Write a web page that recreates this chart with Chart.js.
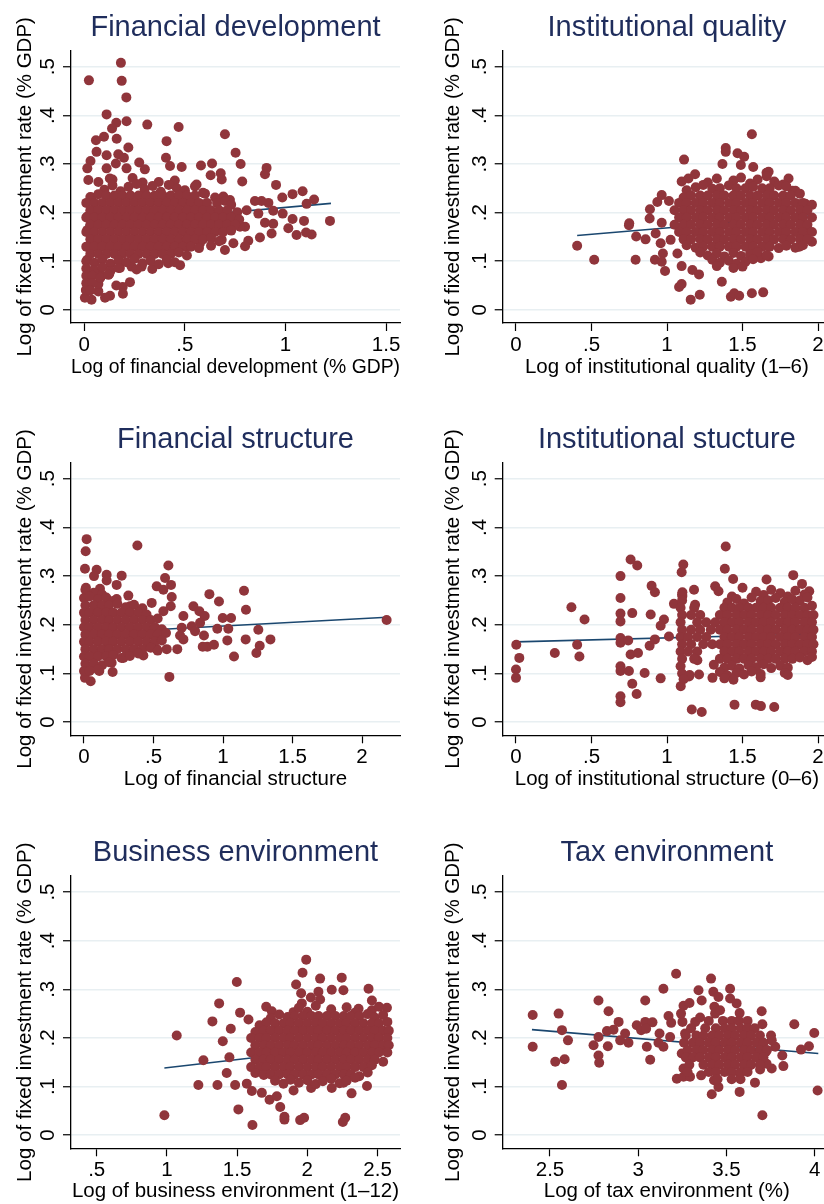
<!DOCTYPE html>
<html>
<head>
<meta charset="utf-8">
<script src="https://cdn.jsdelivr.net/npm/chart.js@4.4.0/dist/chart.umd.min.js"></script>
<style>
  html, body { margin: 0; padding: 0; background: #fff; overflow: hidden; }
  body { position: relative; width: 824px; height: 1204px; }
  canvas { position: absolute; }
</style>
</head>
<body>
<canvas id="p1" width="412" height="410" style="left:0;top:0"></canvas>
<canvas id="p2" width="419" height="410" style="left:412px;top:0"></canvas>
<canvas id="p3" width="412" height="410" style="left:0;top:410px"></canvas>
<canvas id="p4" width="419" height="410" style="left:412px;top:410px"></canvas>
<canvas id="p5" width="412" height="384" style="left:0;top:820px"></canvas>
<canvas id="p6" width="419" height="384" style="left:412px;top:820px"></canvas>
<script>
// shared y axis
const yTitle = 'Log of fixed investment rate (% GDP)';
const yTicks = [0, 0.1, 0.2, 0.3, 0.4, 0.5];
const yTickLabels = ['0', '.1', '.2', '.3', '.4', '.5'];

// Financial development
const fdTitle = 'Financial development';
const fdXTitle = 'Log of financial development (% GDP)';
const fdXTicks = [0, 0.5, 1, 1.5];
const fdXTickLabels = ['0', '.5', '1', '1.5'];
const fdFit = [[0.005, 0.174], [1.226, 0.219]];
const fdPoints = [
  [0.023,0.472],[0.182,0.508],[0.186,0.471],[0.209,0.437],[0.111,0.402],[0.159,0.385],[0.210,0.388],[0.313,0.381],[0.469,0.376],[0.699,0.361],
  [0.138,0.373],[0.098,0.356],[0.058,0.349],[0.161,0.352],[0.219,0.334],[0.409,0.347],[0.061,0.325],[0.111,0.318],[0.169,0.320],[0.197,0.313],
  [0.406,0.313],[0.031,0.306],[0.015,0.291],[0.020,0.267],[0.070,0.263],[0.111,0.291],[0.127,0.270],[0.157,0.301],[0.210,0.291],[0.273,0.303],
  [0.301,0.289],[0.426,0.296],[0.484,0.294],[0.580,0.297],[0.635,0.301],[0.752,0.323],[0.777,0.300],[0.785,0.264],[0.678,0.281],[0.683,0.268],
  [0.628,0.277],[0.558,0.258],[0.906,0.292],[0.898,0.279],[0.953,0.257],[0.984,0.231],[1.035,0.238],[1.085,0.244],[1.142,0.227],[1.105,0.218],
  [1.221,0.183],[1.130,0.155],[1.102,0.159],[1.055,0.154],[1.092,0.183],[1.035,0.187],[1.014,0.168],[0.986,0.198],[0.939,0.204],[0.915,0.220],
  [0.881,0.224],[0.848,0.224],[0.865,0.198],[0.873,0.149],[0.931,0.157],[0.939,0.177],[0.898,0.179],[0.807,0.205],[0.799,0.171],[0.815,0.142],
  [0.799,0.131],[0.741,0.137],[0.699,0.123],[0.683,0.144],[0.724,0.226],[0.691,0.233],[0.774,0.171],[0.741,0.192],[0.658,0.192],[0.608,0.164],
  [0.575,0.137],[0.509,0.130],[0.476,0.092],[0.417,0.096],[0.338,0.084],[0.285,0.089],[0.235,0.089],[0.227,0.057],[0.191,0.047],[0.159,0.050],
  [0.192,0.033],[0.128,0.029],[0.103,0.025],[0.070,0.038],[0.036,0.021],[0.003,0.025],[0.008,0.041],[0.028,0.058],[0.070,0.053],[0.020,0.079],
  [0.078,0.075],[0.124,0.074],[0.177,0.086],[0.015,0.103],[0.015,0.130],[0.015,0.164],[0.015,0.192],[0.036,0.231],[0.053,0.198],[0.045,0.151],
  [0.14,0.268],[0.24,0.271],[0.29,0.262],[0.37,0.263],[0.45,0.266],
  [0.10,0.247],[0.14,0.256],[0.18,0.244],[0.22,0.253],[0.26,0.259],[0.30,0.248],[0.34,0.255],[0.38,0.243],[0.42,0.257],[0.46,0.250],[0.50,0.246],[0.55,0.254],[0.59,0.241],
  [0.03,0.232],[0.07,0.238],[0.11,0.235],[0.15,0.235],[0.19,0.235],[0.23,0.235],[0.27,0.235],[0.31,0.235],[0.35,0.235],[0.39,0.235],[0.43,0.235],[0.47,0.235],[0.51,0.235],[0.55,0.235],[0.60,0.239],[0.65,0.231],
  [0.01,0.220],[0.05,0.220],[0.09,0.220],[0.13,0.220],[0.17,0.220],[0.21,0.220],[0.25,0.220],[0.29,0.220],[0.33,0.220],[0.37,0.220],[0.41,0.220],[0.45,0.220],[0.49,0.220],[0.53,0.220],[0.57,0.220],[0.61,0.220],[0.66,0.220],[0.70,0.224],[0.73,0.216],
  [0.03,0.205],[0.07,0.205],[0.11,0.205],[0.15,0.205],[0.19,0.205],[0.23,0.205],[0.27,0.205],[0.31,0.205],[0.35,0.205],[0.39,0.205],[0.43,0.205],[0.47,0.205],[0.51,0.205],[0.55,0.205],[0.59,0.205],[0.63,0.205],[0.67,0.205],[0.71,0.205],[0.76,0.201],
  [0.01,0.190],[0.05,0.190],[0.09,0.190],[0.13,0.190],[0.17,0.190],[0.21,0.190],[0.25,0.190],[0.29,0.190],[0.33,0.190],[0.37,0.190],[0.41,0.190],[0.45,0.190],[0.49,0.190],[0.53,0.190],[0.57,0.190],[0.61,0.190],[0.65,0.190],[0.69,0.190],[0.73,0.190],[0.77,0.186],
  [0.03,0.175],[0.07,0.175],[0.11,0.175],[0.15,0.175],[0.19,0.175],[0.23,0.175],[0.27,0.175],[0.31,0.175],[0.35,0.175],[0.39,0.175],[0.43,0.175],[0.47,0.175],[0.51,0.175],[0.55,0.175],[0.59,0.175],[0.63,0.175],[0.67,0.175],[0.71,0.175],[0.75,0.175],
  [0.01,0.160],[0.05,0.160],[0.09,0.160],[0.13,0.160],[0.17,0.160],[0.21,0.160],[0.25,0.160],[0.29,0.160],[0.33,0.160],[0.37,0.160],[0.41,0.160],[0.45,0.160],[0.49,0.160],[0.53,0.160],[0.57,0.160],[0.61,0.160],[0.65,0.160],[0.69,0.160],[0.73,0.163],
  [0.03,0.145],[0.07,0.145],[0.11,0.145],[0.15,0.145],[0.19,0.145],[0.23,0.145],[0.27,0.145],[0.31,0.145],[0.35,0.145],[0.39,0.145],[0.43,0.145],[0.47,0.145],[0.51,0.145],[0.55,0.145],[0.59,0.145],[0.63,0.148],[0.67,0.141],
  [0.01,0.130],[0.05,0.130],[0.09,0.130],[0.13,0.130],[0.17,0.130],[0.21,0.130],[0.25,0.130],[0.29,0.130],[0.33,0.130],[0.37,0.130],[0.41,0.130],[0.45,0.130],[0.49,0.130],[0.53,0.130],[0.57,0.127],[0.63,0.132],
  [0.03,0.115],[0.07,0.115],[0.11,0.115],[0.15,0.115],[0.19,0.115],[0.23,0.115],[0.27,0.115],[0.31,0.115],[0.35,0.115],[0.39,0.115],[0.43,0.115],[0.47,0.118],[0.51,0.112],
  [0.01,0.100],[0.05,0.097],[0.09,0.104],[0.13,0.095],[0.17,0.102],[0.21,0.098],[0.25,0.105],[0.29,0.096],[0.33,0.101],[0.37,0.094],[0.41,0.103],[0.45,0.098],
  [0.01,0.085],[0.05,0.082],[0.09,0.088],[0.13,0.080],[0.17,0.086],[0.26,0.083],
  [0.01,0.070],[0.04,0.070],[0.08,0.066],[0.12,0.072],
  [0.01,0.055],[0.04,0.055],[0.01,0.040],[0.03,0.040]
];

// Institutional quality
const iqTitle = 'Institutional quality';
const iqXTitle = 'Log of institutional quality (1\u20136)';
const iqXTicks = [0, 0.5, 1, 1.5, 2];
const iqXTickLabels = ['0', '.5', '1', '1.5', '2'];
const iqFit = [[0.405, 0.153], [1.97, 0.194]];
const iqPoints = [
  [0.405,0.132],[0.518,0.103],[0.748,0.174],[0.750,0.178],[0.792,0.103],[0.796,0.151],[0.858,0.145],[0.885,0.188],[0.887,0.207],[0.936,0.222],
  [0.965,0.236],[0.925,0.157],[0.965,0.179],[0.958,0.137],[0.973,0.116],[0.920,0.103],[0.965,0.099],[0.987,0.080],[1.013,0.224],[1.024,0.144],
  [1.069,0.116],[1.097,0.090],[1.113,0.309],[1.097,0.264],[1.142,0.270],[1.186,0.279],[1.080,0.047],[1.097,0.053],[1.157,0.021],[1.217,0.031],
  [1.212,0.073],[1.168,0.082],[1.363,0.058],[1.389,0.333],[1.389,0.325],[1.367,0.300],[1.467,0.322],[1.511,0.315],[1.489,0.298],[1.562,0.361],
  [1.571,0.294],[1.659,0.282],[1.673,0.284],[1.805,0.270],[1.832,0.245],[1.423,0.027],[1.445,0.034],[1.478,0.029],[1.562,0.034],[1.637,0.036],
  [1.673,0.110],[1.622,0.106],[1.960,0.140],[1.916,0.218],[1.876,0.130],[1.920,0.157],
  [1.27,0.262],[1.33,0.270],[1.44,0.266],[1.49,0.272],[1.55,0.260],[1.60,0.268],[1.66,0.275],[1.71,0.264],[1.77,0.258],
  [1.13,0.246],[1.19,0.252],[1.24,0.257],[1.30,0.249],[1.35,0.250],[1.41,0.256],[1.46,0.250],[1.52,0.250],[1.57,0.253],[1.63,0.250],[1.68,0.250],[1.74,0.256],[1.79,0.254],[1.85,0.245],
  [1.11,0.231],[1.16,0.235],[1.22,0.235],[1.27,0.235],[1.33,0.235],[1.38,0.235],[1.44,0.235],[1.49,0.235],[1.55,0.235],[1.60,0.235],[1.66,0.235],[1.71,0.235],[1.77,0.235],[1.82,0.235],[1.88,0.239],
  [1.08,0.220],[1.13,0.220],[1.19,0.220],[1.24,0.220],[1.30,0.220],[1.35,0.220],[1.41,0.220],[1.46,0.220],[1.52,0.220],[1.57,0.220],[1.63,0.220],[1.68,0.220],[1.74,0.220],[1.79,0.220],[1.85,0.220],[1.90,0.220],[1.96,0.216],
  [1.05,0.205],[1.11,0.205],[1.16,0.205],[1.22,0.205],[1.27,0.205],[1.33,0.205],[1.38,0.205],[1.44,0.205],[1.49,0.205],[1.55,0.205],[1.60,0.205],[1.66,0.205],[1.71,0.205],[1.77,0.205],[1.82,0.205],[1.88,0.205],[1.93,0.205],
  [1.08,0.190],[1.13,0.190],[1.19,0.190],[1.24,0.190],[1.30,0.190],[1.35,0.190],[1.41,0.190],[1.46,0.190],[1.52,0.190],[1.57,0.190],[1.63,0.190],[1.68,0.190],[1.74,0.190],[1.79,0.190],[1.85,0.190],[1.90,0.190],[1.96,0.190],
  [1.05,0.175],[1.11,0.175],[1.16,0.175],[1.22,0.175],[1.27,0.175],[1.33,0.175],[1.38,0.175],[1.44,0.175],[1.49,0.175],[1.55,0.175],[1.60,0.175],[1.66,0.175],[1.71,0.175],[1.77,0.175],[1.82,0.175],[1.88,0.175],[1.93,0.175],
  [1.08,0.160],[1.13,0.160],[1.19,0.160],[1.24,0.160],[1.30,0.160],[1.35,0.160],[1.41,0.160],[1.46,0.160],[1.52,0.160],[1.57,0.160],[1.63,0.160],[1.68,0.160],[1.74,0.160],[1.79,0.160],[1.85,0.160],[1.90,0.160],[1.96,0.160],
  [1.11,0.145],[1.16,0.145],[1.22,0.145],[1.27,0.145],[1.33,0.145],[1.38,0.145],[1.44,0.145],[1.49,0.145],[1.55,0.145],[1.60,0.145],[1.66,0.145],[1.71,0.145],[1.77,0.145],[1.82,0.145],[1.88,0.145],[1.93,0.145],
  [1.13,0.133],[1.19,0.128],[1.24,0.130],[1.30,0.130],[1.35,0.130],[1.41,0.130],[1.46,0.130],[1.52,0.130],[1.57,0.130],[1.63,0.130],[1.68,0.130],[1.74,0.127],[1.79,0.132],[1.85,0.128],[1.90,0.133],
  [1.22,0.118],[1.27,0.112],[1.33,0.116],[1.38,0.110],[1.44,0.117],[1.49,0.111],[1.55,0.115],[1.60,0.119],[1.66,0.113],
  [1.30,0.103],[1.35,0.097],[1.41,0.101],[1.46,0.095],[1.52,0.099],[1.57,0.104],
  [1.33,0.090],[1.44,0.086],[1.50,0.089]
];

// Financial structure
const fsTitle = 'Financial structure';
const fsXTitle = 'Log of financial structure';
const fsXTicks = [0, 0.5, 1, 1.5, 2];
const fsXTickLabels = ['0', '.5', '1', '1.5', '2'];
const fsFit = [[0.0, 0.182], [2.18, 0.2156]];
const fsPoints = [
  [0.019,0.376],[0.012,0.351],[0.007,0.315],[0.014,0.276],[0.384,0.363],[0.607,0.322],[0.091,0.313],[0.072,0.300],[0.163,0.303],[0.163,0.291],
  [0.271,0.301],[0.235,0.282],[0.115,0.274],[0.319,0.260],[0.235,0.253],[0.487,0.245],[0.523,0.279],[0.583,0.296],[0.571,0.272],[0.626,0.282],
  [0.631,0.257],[0.624,0.238],[0.331,0.238],[0.403,0.228],[0.571,0.228],[0.715,0.218],[0.787,0.238],[0.830,0.228],[0.868,0.218],[0.902,0.263],
  [0.971,0.248],[0.998,0.214],[1.058,0.214],[1.151,0.270],[1.165,0.231],[1.254,0.190],[1.038,0.192],[0.959,0.192],[0.835,0.204],[0.775,0.197],
  [0.703,0.194],[0.691,0.178],[0.671,0.150],[0.863,0.178],[0.887,0.155],[0.935,0.159],[0.854,0.155],[1.031,0.168],[1.079,0.135],[1.163,0.170],
  [1.240,0.142],[1.264,0.157],[1.341,0.170],[0.614,0.093],[0.048,0.084],[0.007,0.091],[0.110,0.105],[0.206,0.103],[0.199,0.122],[0.283,0.132],
  [0.427,0.137],[0.523,0.150],[0.595,0.150],[0.715,0.170],[0.799,0.187],[2.177,0.210],
  [0.01,0.272],[0.07,0.266],[0.13,0.262],
  [0.00,0.255],[0.04,0.258],[0.10,0.252],[0.16,0.256],[0.21,0.249],
  [0.01,0.240],[0.07,0.240],[0.13,0.240],[0.18,0.240],[0.24,0.243],[0.30,0.236],[0.36,0.241],[0.42,0.234],
  [0.00,0.225],[0.04,0.225],[0.10,0.225],[0.16,0.225],[0.21,0.225],[0.27,0.225],[0.33,0.225],[0.39,0.225],[0.45,0.221],
  [0.01,0.210],[0.07,0.210],[0.13,0.210],[0.18,0.210],[0.24,0.210],[0.30,0.210],[0.36,0.210],[0.42,0.210],[0.48,0.210],[0.53,0.213],
  [0.00,0.195],[0.04,0.195],[0.10,0.195],[0.16,0.195],[0.21,0.195],[0.27,0.195],[0.33,0.195],[0.39,0.195],[0.45,0.195],[0.51,0.195],[0.56,0.191],
  [0.01,0.180],[0.07,0.180],[0.13,0.180],[0.18,0.180],[0.24,0.180],[0.30,0.180],[0.36,0.180],[0.42,0.180],[0.48,0.180],[0.53,0.180],[0.59,0.183],
  [0.00,0.165],[0.04,0.165],[0.10,0.165],[0.16,0.165],[0.21,0.165],[0.27,0.165],[0.33,0.165],[0.39,0.165],[0.45,0.165],[0.51,0.165],[0.56,0.168],
  [0.01,0.150],[0.07,0.150],[0.13,0.150],[0.18,0.150],[0.24,0.150],[0.30,0.150],[0.36,0.150],[0.42,0.150],[0.48,0.153],[0.53,0.147],
  [0.00,0.135],[0.04,0.135],[0.10,0.135],[0.16,0.135],[0.21,0.138],[0.27,0.132],[0.33,0.136],[0.39,0.141],
  [0.01,0.120],[0.07,0.120],[0.13,0.117],[0.18,0.123],
  [0.00,0.105],[0.04,0.105],[0.10,0.108]
];

// Institutional structure
const isTitle = 'Institutional stucture';
const isXTitle = 'Log of institutional structure (0\u20136)';
const isXTicks = [0, 0.5, 1, 1.5, 2];
const isXTickLabels = ['0', '.5', '1', '1.5', '2'];
const isFit = [[0.0, 0.165], [1.97, 0.181]];
const isPoints = [
  [0.002,0.159],[0.022,0.132],[0.0,0.108],[0.0,0.091],[0.257,0.142],[0.367,0.236],[0.454,0.211],[0.405,0.159],[0.420,0.135],
  [0.692,0.300],[0.692,0.255],[0.692,0.223],[0.692,0.207],[0.692,0.173],[0.692,0.163],[0.692,0.115],[0.692,0.105],[0.692,0.053],[0.692,0.041],
  [0.759,0.334],[0.803,0.322],[0.770,0.224],[0.743,0.168],[0.759,0.139],[0.808,0.142],[0.748,0.105],[0.770,0.079],[0.799,0.058],[0.852,0.101],
  [0.958,0.090],[0.892,0.221],[0.898,0.280],[0.920,0.267],[0.885,0.157],[0.920,0.170],[0.980,0.211],[0.958,0.198],[1.013,0.176],[1.046,0.243],
  [1.108,0.324],[1.097,0.308],[1.102,0.267],[1.102,0.259],[1.179,0.272],[1.186,0.241],[1.091,0.074],[1.146,0.094],[1.212,0.098],[1.164,0.026],
  [1.230,0.021],[1.389,0.361],[1.383,0.315],[1.438,0.294],[1.500,0.276],[1.659,0.293],[1.836,0.302],[1.894,0.284],[1.942,0.269],[1.319,0.279],
  [1.341,0.269],[1.447,0.036],[1.588,0.036],[1.622,0.033],[1.710,0.031],[1.201,0.127],[1.301,0.091],
  [1.10,0.262],[1.43,0.258],[1.59,0.268],[1.64,0.261],[1.69,0.272],[1.75,0.265],[1.80,0.258],[1.85,0.270],[1.91,0.262],
  [1.10,0.250],[1.40,0.246],[1.46,0.253],[1.51,0.244],[1.56,0.256],[1.62,0.249],[1.67,0.250],[1.72,0.255],[1.78,0.247],[1.83,0.252],[1.88,0.250],[1.93,0.256],
  [1.09,0.235],[1.18,0.235],[1.38,0.235],[1.43,0.235],[1.48,0.235],[1.54,0.235],[1.59,0.235],[1.64,0.235],[1.69,0.235],[1.75,0.235],[1.80,0.235],[1.85,0.235],[1.91,0.235],[1.96,0.239],
  [1.10,0.220],[1.16,0.220],[1.22,0.220],[1.35,0.220],[1.40,0.220],[1.46,0.220],[1.51,0.220],[1.56,0.220],[1.62,0.220],[1.67,0.220],[1.72,0.220],[1.78,0.220],[1.83,0.220],[1.88,0.220],[1.93,0.220],[1.97,0.220],
  [1.09,0.205],[1.20,0.205],[1.26,0.205],[1.32,0.205],[1.38,0.205],[1.43,0.205],[1.48,0.205],[1.54,0.205],[1.59,0.205],[1.64,0.205],[1.69,0.205],[1.75,0.205],[1.80,0.205],[1.85,0.205],[1.91,0.205],[1.96,0.205],
  [1.10,0.190],[1.16,0.190],[1.22,0.190],[1.29,0.190],[1.35,0.190],[1.40,0.190],[1.46,0.190],[1.51,0.190],[1.56,0.190],[1.62,0.190],[1.67,0.190],[1.72,0.190],[1.78,0.190],[1.83,0.190],[1.88,0.190],[1.93,0.190],[1.97,0.190],
  [1.09,0.175],[1.14,0.175],[1.20,0.175],[1.26,0.175],[1.38,0.175],[1.43,0.175],[1.48,0.175],[1.54,0.175],[1.59,0.175],[1.64,0.175],[1.69,0.175],[1.75,0.175],[1.80,0.175],[1.85,0.175],[1.91,0.175],[1.96,0.175],
  [1.10,0.160],[1.16,0.160],[1.24,0.160],[1.30,0.160],[1.35,0.160],[1.40,0.160],[1.46,0.160],[1.51,0.160],[1.56,0.160],[1.62,0.160],[1.67,0.160],[1.72,0.160],[1.78,0.160],[1.83,0.160],[1.88,0.160],[1.93,0.160],[1.97,0.160],
  [1.09,0.145],[1.14,0.145],[1.20,0.145],[1.38,0.145],[1.43,0.145],[1.48,0.145],[1.54,0.145],[1.59,0.145],[1.64,0.145],[1.69,0.145],[1.75,0.145],[1.80,0.145],[1.85,0.145],[1.91,0.145],[1.96,0.145],
  [1.10,0.130],[1.18,0.130],[1.35,0.130],[1.40,0.130],[1.46,0.130],[1.51,0.130],[1.56,0.130],[1.62,0.130],[1.67,0.130],[1.72,0.130],[1.78,0.130],[1.83,0.130],[1.88,0.133],[1.93,0.127],[1.96,0.134],
  [1.09,0.115],[1.31,0.118],[1.38,0.112],[1.43,0.116],[1.48,0.110],[1.54,0.117],[1.59,0.113],[1.64,0.119],[1.69,0.111],[1.75,0.116],[1.80,0.112],
  [1.10,0.100],[1.15,0.097],[1.35,0.103],[1.40,0.096],[1.46,0.101],[1.51,0.098],[1.56,0.104],[1.62,0.099],[1.78,0.101],[1.80,0.097],
  [1.11,0.088],[1.38,0.090],[1.44,0.087],[1.62,0.092]
];

// Business environment
const beTitle = 'Business environment';
const beXTitle = 'Log of business environment (1\u201312)';
const beXTicks = [0.5, 1, 1.5, 2, 2.5];
const beXTickLabels = ['.5', '1', '1.5', '2', '2.5'];
const beFit = [[0.982, 0.138], [2.57, 0.191]];
const bePoints = [
  [0.982,0.041],[1.070,0.205],[1.260,0.154],[1.224,0.103],[1.324,0.234],[1.372,0.271],[1.398,0.193],[1.455,0.219],[1.445,0.160],[1.426,0.128],
  [1.360,0.103],[1.498,0.315],[1.521,0.252],[1.581,0.238],[1.486,0.103],[1.569,0.106],[1.605,0.091],[1.509,0.053],[1.609,0.021],[1.676,0.087],
  [1.731,0.073],[1.807,0.058],[1.837,0.038],[1.837,0.032],[1.949,0.031],[1.977,0.036],[2.253,0.027],[2.270,0.036],[1.992,0.361],[1.966,0.334],
  [2.091,0.322],[1.920,0.310],[1.956,0.292],[2.079,0.295],[2.174,0.299],[2.245,0.324],[2.257,0.298],[2.436,0.301],[2.460,0.277],[2.567,0.262],
  [2.365,0.260],[1.707,0.264],[1.747,0.255],[1.902,0.253],[1.961,0.271],[2.025,0.283],[2.091,0.279],[2.315,0.086],[2.257,0.108],[2.425,0.101],
  [2.174,0.097],[2.027,0.097],[1.902,0.092],[1.783,0.080],
  [1.94,0.262],[2.00,0.254],[2.06,0.266],[2.17,0.259],[2.28,0.263],[2.34,0.252],[2.46,0.257],[2.51,0.264],
  [1.74,0.241],[1.80,0.248],[1.86,0.243],[1.91,0.245],[1.97,0.245],[2.03,0.245],[2.08,0.245],[2.14,0.245],[2.20,0.245],[2.26,0.245],[2.31,0.245],[2.37,0.245],[2.43,0.249],[2.48,0.242],[2.54,0.247],
  [1.66,0.226],[1.71,0.232],[1.77,0.230],[1.83,0.230],[1.88,0.230],[1.94,0.230],[2.00,0.230],[2.06,0.230],[2.11,0.230],[2.17,0.230],[2.23,0.230],[2.28,0.230],[2.34,0.230],[2.40,0.230],[2.46,0.230],[2.51,0.230],[2.57,0.233],
  [1.63,0.212],[1.69,0.215],[1.74,0.215],[1.80,0.215],[1.86,0.215],[1.91,0.215],[1.97,0.215],[2.03,0.215],[2.08,0.215],[2.14,0.215],[2.20,0.215],[2.26,0.215],[2.31,0.215],[2.37,0.215],[2.43,0.215],[2.48,0.215],[2.54,0.215],[2.58,0.215],
  [1.60,0.200],[1.66,0.200],[1.71,0.200],[1.77,0.200],[1.83,0.200],[1.88,0.200],[1.94,0.200],[2.00,0.200],[2.06,0.200],[2.11,0.200],[2.17,0.200],[2.23,0.200],[2.28,0.200],[2.34,0.200],[2.40,0.200],[2.46,0.200],[2.51,0.200],[2.57,0.200],
  [1.63,0.185],[1.69,0.185],[1.74,0.185],[1.80,0.185],[1.86,0.185],[1.91,0.185],[1.97,0.185],[2.03,0.185],[2.08,0.185],[2.14,0.185],[2.20,0.185],[2.26,0.185],[2.31,0.185],[2.37,0.185],[2.43,0.185],[2.48,0.185],[2.54,0.185],[2.58,0.185],
  [1.60,0.170],[1.66,0.170],[1.71,0.170],[1.77,0.170],[1.83,0.170],[1.88,0.170],[1.94,0.170],[2.00,0.170],[2.06,0.170],[2.11,0.170],[2.17,0.170],[2.23,0.170],[2.28,0.170],[2.34,0.170],[2.40,0.170],[2.46,0.170],[2.51,0.170],[2.57,0.170],
  [1.63,0.155],[1.69,0.155],[1.74,0.155],[1.80,0.155],[1.86,0.155],[1.91,0.155],[1.97,0.155],[2.03,0.155],[2.08,0.155],[2.14,0.155],[2.20,0.155],[2.26,0.155],[2.31,0.155],[2.37,0.155],[2.43,0.155],[2.48,0.155],[2.54,0.151],
  [1.60,0.140],[1.66,0.140],[1.71,0.140],[1.77,0.140],[1.83,0.140],[1.88,0.140],[1.94,0.140],[2.00,0.140],[2.06,0.140],[2.11,0.140],[2.17,0.140],[2.23,0.140],[2.28,0.140],[2.34,0.140],[2.40,0.140],[2.46,0.144],
  [1.63,0.128],[1.69,0.124],[1.74,0.125],[1.80,0.125],[1.86,0.125],[1.91,0.125],[1.97,0.125],[2.03,0.125],[2.08,0.125],[2.14,0.125],[2.20,0.125],[2.26,0.125],[2.31,0.125],[2.37,0.121],[2.43,0.129],
  [1.77,0.112],[1.83,0.106],[1.88,0.114],[1.94,0.108],[2.00,0.113],[2.06,0.105],[2.11,0.111],[2.17,0.116],[2.23,0.107],[2.28,0.112],[2.34,0.118]
];

// Tax environment
const txTitle = 'Tax environment';
const txXTitle = 'Log of tax environment (%)';
const txXTicks = [2.5, 3, 3.5, 4];
const txXTickLabels = ['2.5', '3', '3.5', '4'];
const txFit = [[2.398, 0.217], [4.021, 0.168]];
const txPoints = [
  [2.402,0.247],[2.402,0.182],[2.549,0.250],[2.568,0.216],[2.602,0.195],[2.530,0.151],[2.583,0.156],[2.568,0.103],[2.747,0.185],[2.775,0.277],
  [2.775,0.202],[2.775,0.164],[2.779,0.149],[2.832,0.255],[2.823,0.214],[2.828,0.183],[2.860,0.217],[2.889,0.233],[2.898,0.195],[2.926,0.209],
  [2.945,0.190],[2.992,0.226],[3.017,0.216],[3.040,0.277],[3.040,0.233],[3.049,0.182],[3.068,0.155],[3.081,0.232],[3.045,0.219],[3.121,0.209],
  [3.115,0.190],[3.143,0.301],[3.143,0.182],[3.172,0.245],[3.181,0.202],[3.187,0.231],[3.215,0.332],[3.219,0.116],[3.257,0.266],[3.291,0.272],
  [3.251,0.233],[3.257,0.120],[3.342,0.298],[3.360,0.277],[3.323,0.233],[3.351,0.242],[3.357,0.123],[3.413,0.322],[3.426,0.295],[3.455,0.284],
  [3.432,0.264],[3.436,0.250],[3.464,0.257],[3.417,0.084],[3.455,0.099],[3.521,0.301],[3.521,0.281],[3.558,0.271],[3.575,0.251],[3.575,0.089],
  [3.662,0.108],[3.700,0.255],[3.704,0.228],[3.704,0.041],[3.753,0.205],[3.757,0.137],[3.817,0.164],[3.823,0.142],[3.885,0.228],[3.923,0.176],
  [3.968,0.183],[3.998,0.210],[4.017,0.092],[3.681,0.168],[3.723,0.171],[3.728,0.147],[3.691,0.135],[3.243,0.250],[3.266,0.209],[3.247,0.168],
  [3.257,0.137],[3.294,0.120],[3.430,0.113],[3.575,0.127],[3.623,0.140],[3.777,0.182],[3.757,0.195],
  [3.40,0.235],[3.48,0.235],[3.53,0.235],[3.57,0.235],[3.62,0.235],
  [3.30,0.220],[3.38,0.220],[3.44,0.220],[3.49,0.220],[3.53,0.220],[3.58,0.220],[3.62,0.220],[3.66,0.220],
  [3.27,0.205],[3.33,0.205],[3.37,0.205],[3.42,0.205],[3.46,0.205],[3.51,0.205],[3.55,0.205],[3.60,0.205],[3.64,0.205],[3.69,0.205],
  [3.26,0.190],[3.31,0.190],[3.35,0.190],[3.40,0.190],[3.44,0.190],[3.49,0.190],[3.53,0.190],[3.58,0.190],[3.62,0.190],[3.67,0.190],[3.71,0.190],
  [3.28,0.175],[3.33,0.175],[3.37,0.175],[3.42,0.175],[3.46,0.175],[3.51,0.175],[3.55,0.175],[3.60,0.175],[3.64,0.175],[3.69,0.175],[3.73,0.175],
  [3.27,0.160],[3.31,0.160],[3.35,0.160],[3.40,0.160],[3.44,0.160],[3.49,0.160],[3.53,0.160],[3.58,0.160],[3.62,0.160],[3.67,0.160],[3.71,0.160],
  [3.29,0.145],[3.37,0.145],[3.42,0.145],[3.46,0.145],[3.51,0.145],[3.55,0.145],[3.60,0.145],[3.64,0.145],[3.69,0.145],
  [3.28,0.130],[3.40,0.130],[3.44,0.130],[3.49,0.130],[3.53,0.130],[3.58,0.130],[3.62,0.130],
  [3.45,0.115],[3.53,0.115],[3.58,0.115]
];

const FONT = "'Liberation Sans', Arial, Helvetica, sans-serif";
const markerColor = '#90353B';
const fitColor = '#1A476F';
const titleColor = '#1F2D5C';
const gridColor = '#E8EFF2';
const axisColor = '#000000';

// chart area of each panel in canvas pixels, plus axis ranges
const panels = [
  { id: 'p1', title: fdTitle, xTitle: fdXTitle, points: fdPoints, fit: fdFit, xTicks: fdXTicks, xLabels: fdXTickLabels,
    xMin: -0.066, xMax: 1.569, area: { left: 71, right: 400, top: 50.7, bottom: 323 }, yTitleX: 25 },
  { id: 'p2', title: iqTitle, xTitle: iqXTitle, points: iqPoints, fit: iqFit, xTicks: iqXTicks, xLabels: iqXTickLabels,
    xMin: -0.088, xMax: 2.086, area: { left: 90.7, right: 419, top: 50.7, bottom: 323 }, yTitleX: 41.7 },
  { id: 'p3', title: fsTitle, xTitle: fsXTitle, points: fsPoints, fit: fsFit, xTicks: fsXTicks, xLabels: fsXTickLabels,
    xMin: -0.0935, xMax: 2.273, area: { left: 71, right: 400, top: 52.7, bottom: 325.3 }, yTitleX: 25 },
  { id: 'p4', title: isTitle, xTitle: isXTitle, points: isPoints, fit: isFit, xTicks: isXTicks, xLabels: isXTickLabels,
    xMin: -0.088, xMax: 2.086, area: { left: 90.7, right: 419, top: 52.7, bottom: 325.3 }, yTitleX: 41.7 },
  { id: 'p5', title: beTitle, xTitle: beXTitle, points: bePoints, fit: beFit, xTicks: beXTicks, xLabels: beXTickLabels,
    xMin: 0.317, xMax: 2.660, area: { left: 71, right: 400, top: 56, bottom: 328.3 }, yTitleX: 25 },
  { id: 'p6', title: txTitle, xTitle: txXTitle, points: txPoints, fit: txFit, xTicks: txXTicks, xLabels: txXTickLabels,
    xMin: 2.232, xMax: 4.093, area: { left: 90.7, right: 419, top: 56, bottom: 328.3 }, yTitleX: 41.7 }
];

const titleSize = 29;
const axisSize = 20.5;
const tickSize = 20.5;

function makePanel(p) {
  const canvas = document.getElementById(p.id);
  const W = canvas.width, H = canvas.height;
  const a = p.area;
  const titleLH = titleSize * 1.2;
  const axisLH = axisSize * 1.2;

  new Chart(canvas, {
    type: 'scatter',
    data: {
      datasets: [
        {
          data: p.points.map(pt => ({ x: pt[0], y: pt[1] })),
          pointRadius: 5,
          pointBackgroundColor: markerColor,
          pointBorderColor: markerColor,
          pointBorderWidth: 0,
          order: 0
        },
        {
          type: 'line',
          data: p.fit.map(pt => ({ x: pt[0], y: pt[1] })),
          borderColor: fitColor,
          borderWidth: 1.6,
          pointRadius: 0,
          fill: false,
          order: 1
        }
      ]
    },
    options: {
      responsive: false,
      animation: false,
      events: [],
      layout: { autoPadding: false, padding: { left: 0, top: 0, right: W - a.right, bottom: 0 } },
      plugins: {
        legend: { display: false },
        tooltip: { enabled: false },
        title: {
          display: true,
          text: p.title,
          fullSize: false,
          color: titleColor,
          font: { family: FONT, size: titleSize, weight: 'normal', lineHeight: 1.2 },
          padding: { top: a.top - 22.7 - titleLH / 2, bottom: 22.7 - titleLH / 2 }
        }
      },
      scales: {
        x: {
          type: 'linear',
          min: p.xMin,
          max: p.xMax,
          afterBuildTicks: s => { s.ticks = p.xTicks.map(v => ({ value: v })); },
          afterFit: s => { s.height = H - a.bottom; },
          ticks: {
            autoSkip: false, maxRotation: 0, padding: 1.7, color: '#000',
            font: { family: FONT, size: tickSize, lineHeight: 1.2 },
            callback: (v, i) => p.xLabels[i]
          },
          grid: { drawOnChartArea: false, drawTicks: true, tickLength: 8, tickColor: axisColor, tickWidth: 1.2 },
          border: { display: true, color: axisColor, width: 1.3 },
          title: {
            display: true, text: p.xTitle, color: '#000',
            font: { family: FONT, size: axisSize, lineHeight: 1.2 },
            padding: { top: 0, bottom: Math.max(0, H - a.bottom - 44 - axisLH / 2) }
          }
        },
        y: {
          type: 'linear',
          min: -0.027,
          max: 0.533,
          afterBuildTicks: s => { s.ticks = yTicks.map(v => ({ value: v })); },
          afterFit: s => { s.width = a.left; },
          ticks: {
            autoSkip: false, minRotation: 90, maxRotation: 90, crossAlign: 'center', padding: 6.2, color: '#000',
            font: { family: FONT, size: tickSize, lineHeight: 1.2 },
            callback: (v, i) => yTickLabels[i]
          },
          grid: { color: gridColor, lineWidth: 1.5, drawTicks: true, tickLength: 8, tickColor: axisColor, tickWidth: 1.2 },
          border: { display: true, color: axisColor, width: 1.3 },
          title: {
            display: true, text: yTitle, color: '#000',
            font: { family: FONT, size: axisSize, lineHeight: 1.2 },
            padding: { top: p.yTitleX - axisLH / 2, bottom: 0 }
          }
        }
      }
    }
  });
}

panels.forEach(makePanel);
</script>
</body>
</html>
